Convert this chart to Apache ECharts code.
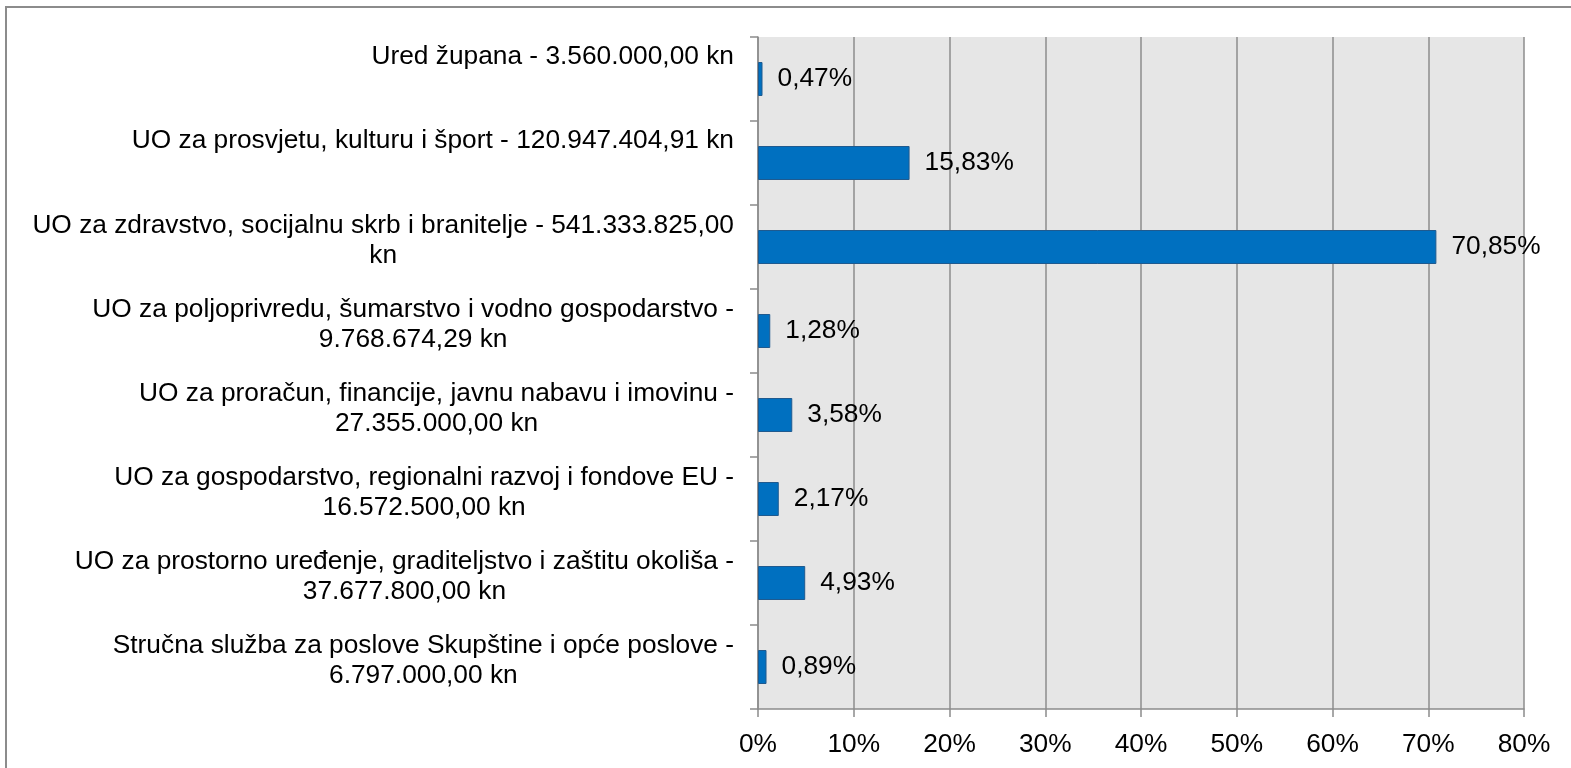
<!DOCTYPE html>
<html>
<head>
<meta charset="utf-8">
<script src="https://cdn.jsdelivr.net/npm/echarts@6/dist/echarts.min.js"></script>
<style>
  html, body { margin: 0; padding: 0; background: #fff; }
  #chart { width: 1571px; height: 768px; }
</style>
</head>
<body>
<div id="chart"></div>
<script>
const categories = [
  "Ured župana - 3.560.000,00 kn",
  "UO za prosvjetu, kulturu i šport - 120.947.404,91 kn",
  "UO za zdravstvo, socijalnu skrb i branitelje - 541.333.825,00\nkn",
  "UO za poljoprivredu, šumarstvo i vodno gospodarstvo -\n9.768.674,29 kn",
  "UO za proračun, financije, javnu nabavu i imovinu -\n27.355.000,00 kn",
  "UO za gospodarstvo, regionalni razvoj i fondove EU -\n16.572.500,00 kn",
  "UO za prostorno uređenje, graditeljstvo i zaštitu okoliša -\n37.677.800,00 kn",
  "Stručna služba za poslove Skupštine i opće poslove -\n6.797.000,00 kn"
];
const shares = [0.47, 15.83, 70.85, 1.28, 3.58, 2.17, 4.93, 0.89];
const xTicks = { min: 0, max: 80, interval: 10 };

const font = "'Liberation Sans', Arial, sans-serif";
const gray = '#8c8c8c';
const fs = 26.3;

const chart = echarts.init(document.getElementById('chart'));

chart.setOption({
  animation: false,
  textStyle: { fontFamily: font },
  graphic: [{
    type: 'rect',
    shape: { x: 6, y: 7, width: 1600, height: 800 },
    style: { fill: 'none', stroke: gray, lineWidth: 2 },
    silent: true
  }],
  grid: {
    left: 758, right: 47, top: 37, bottom: 59,
    show: true, backgroundColor: '#e6e6e6', borderWidth: 0
  },
  xAxis: {
    type: 'value',
    min: xTicks.min, max: xTicks.max, interval: xTicks.interval,
    axisLine: { show: true, lineStyle: { color: gray, width: 1.5 } },
    axisTick: { show: true, length: 8, lineStyle: { color: gray, width: 1.5 } },
    splitLine: { show: true, lineStyle: { color: gray, width: 1.5 } },
    axisLabel: {
      formatter: '{value}%', fontSize: fs, color: '#000', margin: 23,
      fontFamily: font
    }
  },
  yAxis: {
    type: 'category',
    inverse: true,
    data: categories,
    axisLine: { show: true, lineStyle: { color: gray, width: 1.5 } },
    axisTick: { show: true, length: 8, lineStyle: { color: gray, width: 1.5 } },
    splitLine: { show: false },
    axisLabel: {
      interval: 0,
      margin: 24,
      align: 'right',
      verticalAlign: 'middle',
      // text sits near the top of each band, lines centred within the block
      formatter: function (v) {
        const lines = v.split('\n');
        const body = lines.map(l => '{c|' + l + '}').join('\n');
        return body + '\n' + (lines.length === 1 ? '{f1| }' : '{f2| }');
      },
      rich: {
        c: { align: 'center', fontSize: fs, lineHeight: 30, color: '#000', fontFamily: font },
        f1: { fontSize: 10, lineHeight: 44 },
        f2: { fontSize: 10, lineHeight: 12 }
      }
    }
  },
  series: [{
    type: 'bar',
    data: shares,
    barWidth: 34,
    itemStyle: { color: '#0070c0', borderColor: '#1f5a8f', borderWidth: 1 },
    label: {
      show: true,
      position: 'right',
      distance: 15,
      fontSize: fs,
      color: '#000',
      fontFamily: font,
      formatter: p => p.value.toFixed(2).replace('.', ',') + '%'
    }
  }]
});
</script>
</body>
</html>
